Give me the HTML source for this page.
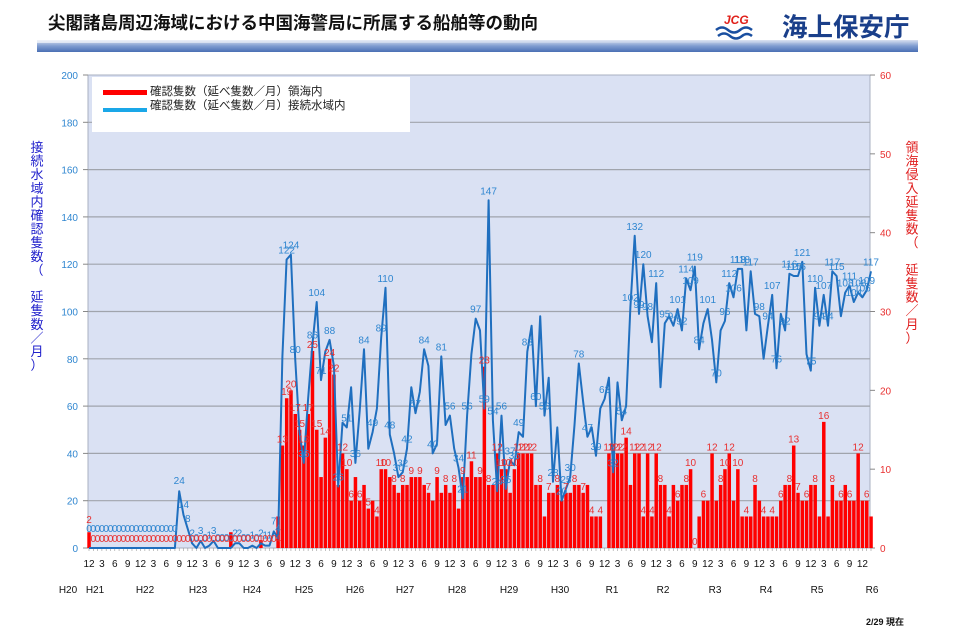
<!DOCTYPE html>
<html><head><meta charset="utf-8"><style>
html,body{margin:0;padding:0;background:#fff;width:960px;height:640px;overflow:hidden;font-family:"Liberation Sans","Noto Sans CJK JP",sans-serif}
</style></head><body>
<svg id="s" width="960" height="640" xmlns="http://www.w3.org/2000/svg" font-family="'Liberation Sans','Noto Sans CJK JP',sans-serif">
<defs><linearGradient id="g" x1="0" y1="0" x2="0" y2="1"><stop offset="0" stop-color="#d8e0f0"/><stop offset="0.5" stop-color="#7f9cd0"/><stop offset="1" stop-color="#4a6fb4"/></linearGradient>
<linearGradient id="g2" x1="0" y1="0" x2="1" y2="0"><stop offset="0" stop-color="#fff" stop-opacity="0.6"/><stop offset="1" stop-color="#fff" stop-opacity="0"/></linearGradient></defs>
<text x="48" y="29" font-size="17.5" font-weight="bold" fill="#111">尖閣諸島周辺海域における中国海警局に所属する船舶等の動向</text>
<text x="724" y="24" font-size="12" font-weight="bold" font-style="italic" fill="#e0201a">JCG</text>
<path d="M716 30 q6 -5 12 0 q6 5 12 0 q6 -5 12 0 M718 36 q6 -5 12 0 q6 5 12 0 q5 -4 10 0" stroke="#1a4fa0" stroke-width="2.5" fill="none"/>
<text x="782" y="36" font-size="25.5" font-weight="bold" fill="#1a3f8a">海上保安庁</text>
<rect x="37" y="40" width="881" height="12" fill="url(#g)"/>
<rect x="37" y="40" width="881" height="3" fill="url(#g2)"/>
<rect x="88" y="75" width="782" height="473" fill="#dae1f3" stroke="#a8b0c0"/>
<g id="grid"></g>
<g id="bars"></g>
<g id="line"></g>
<g id="lab"></g>
<rect x="92" y="77" width="318" height="55" fill="#fff"/>
<rect x="103" y="90" width="44" height="5" fill="#f00"/>
<rect x="103" y="108" width="44" height="4" fill="#1aa7e8"/>
<text x="150" y="95" font-size="11.5" fill="#222">確認隻数（延べ隻数／月）領海内</text>
<text x="150" y="109" font-size="11.5" fill="#222">確認隻数（延べ隻数／月）接続水域内</text>
<text x="866" y="625" font-size="9" font-weight="bold" fill="#111">2/29  現在</text>
</svg>
<script>
var NS="http://www.w3.org/2000/svg";
function el(p,t,a,txt){var e=document.createElementNS(NS,t);for(var k in a)e.setAttribute(k,a[k]);if(txt!==undefined)e.textContent=txt;document.getElementById(p).appendChild(e);return e;}
for(var v=0;v<=200;v+=20){var y=548-v*2.365;
 if(v>0&&v<200)el('grid','line',{x1:88,x2:870,y1:y,y2:y,stroke:'#a0a4ac','stroke-width':1.2});
 el('grid','line',{x1:83,x2:88,y1:y,y2:y,stroke:'#888'});
 el('grid','text',{x:78,y:y+4,'font-size':10,fill:'#2f86d0','text-anchor':'end'},v);}
for(var v=0;v<=60;v+=10){var y=548-v*7.883;
 el('grid','line',{x1:870,x2:875,y1:y,y2:y,stroke:'#888'});
 el('grid','text',{x:880,y:y+4,'font-size':10,fill:'#e83030'},v);}
var lt="接続水域内確認隻数（　延隻数／月）";
for(var i=0;i<lt.length;i++)el('grid','text',{x:37,y:152+i*13.6,'font-size':13,fill:'#2222cc','text-anchor':'middle'},lt[i]);
var rt="領海侵入延隻数（　延隻数／月）";
for(var i=0;i<rt.length;i++)el('grid','text',{x:912,y:152+i*13.6,'font-size':13,fill:'#e02020','text-anchor':'middle'},rt[i]);
var blue=[0,0,0,0,0,0,0,0,0,0,0,0,0,0,0,0,0,0,0,0,0,24,14,8,2,0,3,0,1,3,0,0,0,0,2,2,0,0,1,0,2,1,1,7,4,
81,122,124,80,49,36,63,86,104,71,83,88,77,26,53,51,68,36,58,84,42,49,59,89,110,48,40,30,32,42,68,57,66,84,77,40,44,81,52,56,42,34,21,56,82,97,92,59,147,54,24,56,25,37,35,49,47,83,94,60,98,56,72,28,51,20,25,30,52,78,62,47,51,
39,59,63,72,32,70,54,60,102,132,99,120,98,87,112,68,95,98,94,101,92,114,109,119,84,95,101,88,70,92,96,112,106,118,118,92,117,99,98,80,94,107,76,99,92,116,115,115,121,82,75,110,94,107,94,117,115,98,108,111,104,108,106,109,117,114];
var red=[2,0,0,0,0,0,0,0,0,0,0,0,0,0,0,0,0,0,0,0,0,0,0,0,0,0,0,0,0,0,0,0,0,2,0,0,0,0,0,0,1,0,0,0,4,
13,19,20,17,15,13,17,25,15,9,14,24,22,8,12,10,6,9,6,8,5,6,4,10,10,9,8,7,8,8,9,9,9,8,7,6,9,7,8,7,8,5,9,9,11,9,9,23,8,8,12,10,10,7,10,12,12,12,12,8,8,4,7,7,8,6,7,7,8,8,7,8,
4,4,4,0,12,12,12,12,14,8,12,12,4,12,4,12,8,8,4,8,6,8,8,10,0,4,6,6,12,6,8,10,12,6,10,4,4,4,8,6,4,4,4,4,6,8,8,13,7,6,6,8,8,4,16,4,8,6,6,8,6,6,12,6,6,4];
var N=183;
while(blue.length<N)blue.push(blue[blue.length-1]);blue=blue.slice(0,N);
while(red.length<N)red.push(4);red=red.slice(0,N);
var dx=(871-89)/(N-1);
function X(i){return 89+i*dx;}
for(var i=0;i<N;i++){if(red[i]>0){var h=red[i]*7.883;el('bars','rect',{x:X(i)-1.7,y:548-h,width:3.5,height:h,fill:'#ff0000'});}}
var pts=[];for(var i=0;i<N;i++)pts.push(X(i).toFixed(1)+','+(548-blue[i]*2.365).toFixed(1));
el('line','polyline',{points:pts.join(' '),fill:'none',stroke:'#1f6fbf','stroke-width':2,'stroke-linejoin':'round'});
for(var i=0;i<N;i++){
 if(i<45){
  el('lab','text',{x:X(i),y:i<21?532:545-blue[i]*2.365-4,'font-size':10,fill:'#2f86d0','text-anchor':'middle'},i<21?'0':blue[i]);
  el('lab','text',{x:X(i),y:i==0?523:542,'font-size':10,fill:'#e83030','text-anchor':'middle'},red[i]);
 } else {
  if(i%2==0||blue[i]>100||blue[i]<40)el('lab','text',{x:X(i),y:548-blue[i]*2.365-6,'font-size':10,fill:'#2f86d0','text-anchor':'middle'},blue[i]);
  if(i%2==1||red[i]>=10)el('lab','text',{x:X(i),y:548-red[i]*7.883-3,'font-size':10,fill:'#e83030','text-anchor':'middle'},red[i]);
 }
}
var mlab=['12','3','6','9'];
for(var i=0;i<=180;i+=3){el('grid','text',{x:X(i),y:567,'font-size':10,fill:'#111','text-anchor':'middle'},mlab[(i/3)%4]);}
for(var i=0;i<N;i++)el('grid','line',{x1:X(i),x2:X(i),y1:548,y2:551,stroke:'#999','stroke-width':0.6});
var yrs=['H20','H21','H22','H23','H24','H25','H26','H27','H28','H29','H30','R1','R2','R3','R4','R5','R6'];
var yx=[68,95,145,198,252,304,355,405,457,509,560,612,663,715,766,817,872];
for(var k=0;k<yrs.length;k++)el('grid','text',{x:yx[k],y:593,'font-size':10,fill:'#111','text-anchor':'middle'},yrs[k]);
</script>
</body></html>
